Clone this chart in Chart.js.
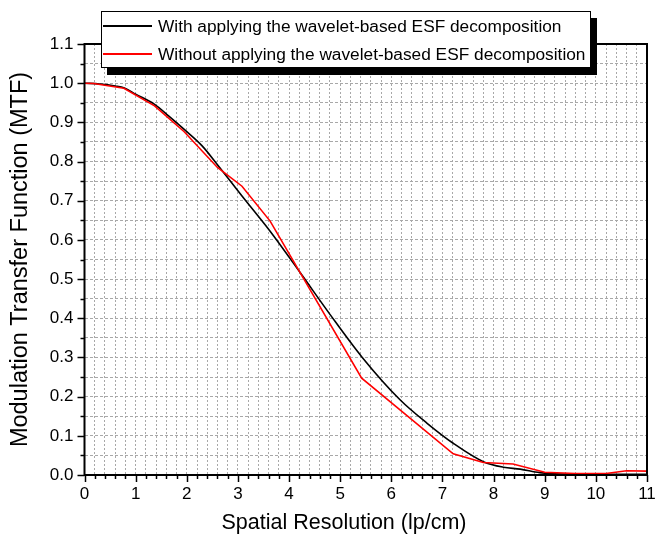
<!DOCTYPE html>
<html><head><meta charset="utf-8">
<script src="https://cdn.jsdelivr.net/npm/chart.js@4/dist/chart.umd.min.js"></script>
<style>html,body{margin:0;padding:0;background:#fff}#wrap{width:657px;height:538px;position:relative}</style>
</head><body><div id="wrap"><canvas id="c" width="657" height="538"></canvas></div>
<script>
// ---- data ----
const seriesLabels = [
  'With applying the wavelet-based ESF decomposition',
  'Without applying the wavelet-based ESF decomposition'
];
const withX = [0, 0.3, 0.6, 0.78, 1.0, 1.37, 1.65, 1.95, 2.3, 2.6, 3.08, 3.63, 4.22, 4.8, 5.42, 6.17, 6.7, 7.21, 7.8, 8.19, 8.52, 8.9, 9.2, 10.0, 11.0];
const withY = [1.0, 0.998, 0.993, 0.988, 0.972, 0.946, 0.916, 0.882, 0.84, 0.792, 0.712, 0.622, 0.516, 0.41, 0.302, 0.192, 0.132, 0.081, 0.034, 0.02, 0.015, 0.006, 0.003, 0.002, 0.002];
const withoutX = [0, 0.18, 0.77, 1.37, 1.95, 2.6, 3.08, 3.63, 5.42, 7.21, 7.8, 8.38, 9.0, 9.6, 10.2, 10.6, 11.0];
const withoutY = [1.0, 0.999, 0.987, 0.942, 0.876, 0.785, 0.737, 0.648, 0.247, 0.054, 0.032, 0.028, 0.007, 0.004, 0.004, 0.011, 0.01];
const xTickLabels = ['0','1','2','3','4','5','6','7','8','9','10','11'];
const yTickLabels = ['0.0','0.1','0.2','0.3','0.4','0.5','0.6','0.7','0.8','0.9','1.0','1.1'];
const xTitle = 'Spatial Resolution (lp/cm)';
const yTitle = 'Modulation Transfer Function (MTF)';

const FONT = "'Liberation Sans', Arial, sans-serif";
Chart.defaults.font.family = FONT;
Chart.defaults.color = '#000';

const toXY = (xs, ys) => xs.map((x, i) => ({x: x, y: ys[i]}));
const isMult = (v, s) => Math.abs(v / s - Math.round(v / s)) < 1e-6;

const frameAndTicks = {
  id: 'frameAndTicks',
  afterDatasetsDraw(chart) {
    const ctx = chart.ctx, a = chart.chartArea;
    const xs = chart.scales.x, ys = chart.scales.y;
    ctx.save();
    ctx.strokeStyle = '#000';
    ctx.lineWidth = 1.5;
    xs.ticks.forEach(t => {
      const p = Math.round(xs.getPixelForValue(t.value)) + 0.5;
      const len = isMult(t.value, 1) ? 7 : 4;
      ctx.beginPath(); ctx.moveTo(p, a.bottom); ctx.lineTo(p, a.bottom + len); ctx.stroke();
    });
    ys.ticks.forEach(t => {
      const p = Math.round(ys.getPixelForValue(t.value)) + 0.5;
      const len = isMult(t.value, 0.1) ? 7 : 4;
      ctx.beginPath(); ctx.moveTo(a.left - len, p); ctx.lineTo(a.left, p); ctx.stroke();
    });
    ctx.lineWidth = 2;
    ctx.beginPath();
    ctx.moveTo(a.left, a.top); ctx.lineTo(a.left, a.bottom); ctx.lineTo(a.right, a.bottom); ctx.lineTo(a.right, a.top); ctx.closePath();
    ctx.stroke();
    // x axis title (offset left of centre, as in the reference)
    ctx.fillStyle = '#000';
    ctx.font = '21.5px ' + FONT;
    ctx.textAlign = 'center';
    ctx.textBaseline = 'middle';
    ctx.fillText(xTitle, 344, 523);
    ctx.restore();
  },
  afterDraw(chart) {
    const ctx = chart.ctx;
    const bx = 101, by = 11, bw = 490, bh = 57;
    ctx.save();
    ctx.fillStyle = '#000';
    ctx.fillRect(bx + 6, by + 7, bw, bh);
    ctx.fillStyle = '#fff';
    ctx.fillRect(bx, by, bw, bh);
    ctx.strokeStyle = '#000'; ctx.lineWidth = 1;
    ctx.strokeRect(bx + 0.5, by + 0.5, bw - 1, bh - 1);
    const rows = [26, 54];
    ctx.font = '17.3px ' + FONT;
    ctx.textBaseline = 'middle';
    ctx.textAlign = 'left';
    chart.data.datasets.forEach((ds, i) => {
      ctx.strokeStyle = ds.borderColor; ctx.lineWidth = 2;
      ctx.beginPath(); ctx.moveTo(103, rows[i]); ctx.lineTo(152, rows[i]); ctx.stroke();
      ctx.fillStyle = '#000';
      ctx.fillText(ds.label, 158, rows[i] + 1);
    });
    ctx.restore();
  }
};

new Chart(document.getElementById('c'), {
  type: 'line',
  data: {
    datasets: [
      { label: seriesLabels[0], data: toXY(withX, withY), borderColor: '#000000', borderWidth: 1.6,
        pointRadius: 0, fill: false, cubicInterpolationMode: 'monotone', order: 2 },
      { label: seriesLabels[1], data: toXY(withoutX, withoutY), borderColor: '#ff0000', borderWidth: 1.6,
        pointRadius: 0, fill: false, tension: 0, order: 1 }
    ]
  },
  options: {
    responsive: false,
    animation: false,
    devicePixelRatio: 1,
    layout: { padding: { top: 44, right: 10, left: 0, bottom: 0 } },
    plugins: { legend: { display: false }, tooltip: { enabled: false } },
    scales: {
      x: {
        type: 'linear', min: 0, max: 11, position: 'bottom',
        afterFit: s => { s.height = 63; s.paddingLeft = 0; s.paddingRight = 0; },
        ticks: { stepSize: 0.2, autoSkip: false, maxRotation: 0, minRotation: 0, padding: 9,
          font: { size: 17 }, color: '#000',
          callback: v => isMult(v, 1) ? xTickLabels[Math.round(v)] : '' },
        grid: { color: '#a8a8a8', lineWidth: 1, drawTicks: false },
        border: { display: false, dash: [2, 2] },
        title: { display: false }
      },
      y: {
        type: 'linear', min: 0, max: 1.1, position: 'left',
        afterFit: s => { s.width = 84.5; },
        ticks: { stepSize: 0.05, autoSkip: false, padding: 11, font: { size: 17 }, color: '#000',
          callback: v => isMult(v, 0.1) ? yTickLabels[Math.round(v * 10)] : '' },
        grid: { color: '#a8a8a8', lineWidth: 1, drawTicks: false },
        border: { display: false, dash: [3, 2] },
        title: { display: true, text: yTitle, font: { size: 23.5 }, color: '#000', padding: { top: 6, bottom: 0 } }
      }
    }
  },
  plugins: [frameAndTicks]
});
</script>
</body></html>
